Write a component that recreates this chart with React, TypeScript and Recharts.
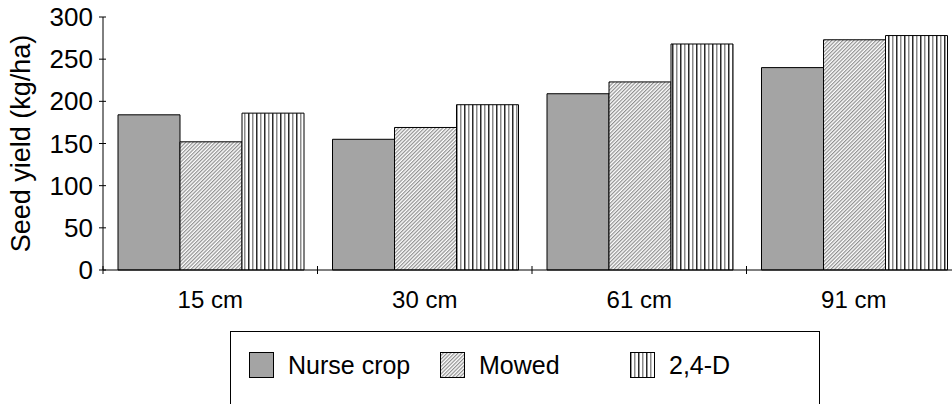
import React from 'react';
import { BarChart, Bar, XAxis, YAxis, Legend } from 'recharts';

const categories = ['15 cm', '30 cm', '61 cm', '91 cm'];
const nurseCrop = [184, 155, 209, 240];
const mowed = [152, 169, 223, 273];
const twoFourD = [186, 196, 268, 278];
const yTicks = [0, 50, 100, 150, 200, 250, 300];
const seriesNames = ['Nurse crop', 'Mowed', '2,4-D'];

const FONT = '"Liberation Sans", Arial, sans-serif';

const chartData = categories.map((name, i) => ({
  name,
  nurse: nurseCrop[i],
  mowed: mowed[i],
  d24: twoFourD[i],
}));

const fills = ['#a4a4a4', 'url(#mowedPat)', 'url(#vlinePat)'];
const legendFills = ['#a4a4a4', 'url(#mowedPatL)', 'url(#vlinePatL)'];

function Patterns({ suffix = '' }: { suffix?: string }) {
  return (
    <defs>
      <pattern id={'mowedPat' + suffix} width="2.6" height="2.6" patternUnits="userSpaceOnUse" patternTransform="rotate(45)">
        <rect width="2.6" height="2.6" fill="#fff" />
        <rect width="1.2" height="2.6" fill="#909090" />
      </pattern>
      <pattern id={'vlinePat' + suffix} width="8" height="8" patternUnits="userSpaceOnUse">
        <rect width="8" height="8" fill="#fff" />
        <rect x="0" width="1.5" height="8" fill="#2a2a2a" />
        <rect x="4" width="1.5" height="8" fill="#8a8a8a" />
      </pattern>
    </defs>
  );
}

const YTick = (props: any) => {
  const { x, y, payload } = props;
  return (
    <g>
      <line x1={x - 4} x2={x + 3} y1={y} y2={y} stroke="#000" />
      <text x={x - 10} y={y + 9} textAnchor="end" fontSize={26} fontFamily={FONT} fill="#000">
        {payload.value}
      </text>
    </g>
  );
};

const XTick = (props: any) => {
  const { x, y, payload, index } = props;
  const off = payload.offset || 0;
  return (
    <g>
      <line x1={x - off} x2={x - off} y1={y - 4} y2={y + 4} stroke="#000" />
      {index === categories.length - 1 && (
        <line x1={x + off} x2={x + off} y1={y - 4} y2={y + 4} stroke="#000" />
      )}
      <text x={x} y={y + 38} textAnchor="middle" fontSize={24} fontFamily={FONT} fill="#000">
        {payload.value}
      </text>
    </g>
  );
};

const YLabel = (props: any) => {
  const { viewBox } = props;
  const cx = 21;
  const cy = viewBox.y + viewBox.height / 2;
  return (
    <text
      x={cx}
      y={cy}
      transform={`rotate(-90, ${cx}, ${cy})`}
      textAnchor="middle"
      dominantBaseline="central"
      fontSize={27}
      fontFamily={FONT}
      fill="#000"
    >
      Seed yield (kg/ha)
    </text>
  );
};

const itemLeft = [18, 209, 399];

const LegendBox = () => (
  <div
    style={{
      position: 'relative',
      width: 590,
      height: 90,
      border: '1px solid #000',
      boxSizing: 'border-box',
      background: '#fff',
      fontFamily: FONT,
      fontSize: 25,
    }}
  >
    {seriesNames.map((n, i) => (
      <div key={n} style={{ position: 'absolute', left: itemLeft[i], top: 20, display: 'flex', alignItems: 'center' }}>
        <svg width={25} height={26} style={{ display: 'block' }}>
          <Patterns suffix="L" />
          <rect x={0.5} y={0.5} width={24} height={25} fill={legendFills[i]} stroke="#000" />
        </svg>
        <span style={{ marginLeft: 14, lineHeight: '26px' }}>{n}</span>
      </div>
    ))}
  </div>
);

export default function App() {
  return (
    <div style={{ position: 'absolute', left: 0, top: 0, width: 952, height: 404, overflow: 'hidden', background: '#fff' }}>
      <BarChart
        width={975}
        height={404}
        data={chartData}
        margin={{ top: 17, right: 14, left: 0, bottom: 0 }}
        barCategoryGap={15}
        barGap={0}
      >
        <Patterns />
        <XAxis
          dataKey="name"
          height={134}
          axisLine={{ stroke: '#000' }}
          tickLine={false}
          tickSize={0}
          tickMargin={0}
          tick={<XTick />}
          interval={0}
        />
        <YAxis
          width={103}
          domain={[0, 300]}
          ticks={yTicks}
          axisLine={{ stroke: '#000' }}
          tickLine={false}
          tickSize={0}
          tickMargin={0}
          tick={<YTick />}
          label={<YLabel />}
        />
        <Legend
          layout="horizontal"
          verticalAlign="middle"
          align="center"
          content={() => <LegendBox />}
          wrapperStyle={{ left: 230, top: 331, width: 590, height: 90 }}
        />
        <Bar dataKey="nurse" name={seriesNames[0]} fill={fills[0]} stroke="#000" strokeWidth={1} isAnimationActive={false} />
        <Bar dataKey="mowed" name={seriesNames[1]} fill={fills[1]} stroke="#000" strokeWidth={1} isAnimationActive={false} />
        <Bar dataKey="d24" name={seriesNames[2]} fill={fills[2]} stroke="#000" strokeWidth={1} isAnimationActive={false} />
      </BarChart>
    </div>
  );
}
